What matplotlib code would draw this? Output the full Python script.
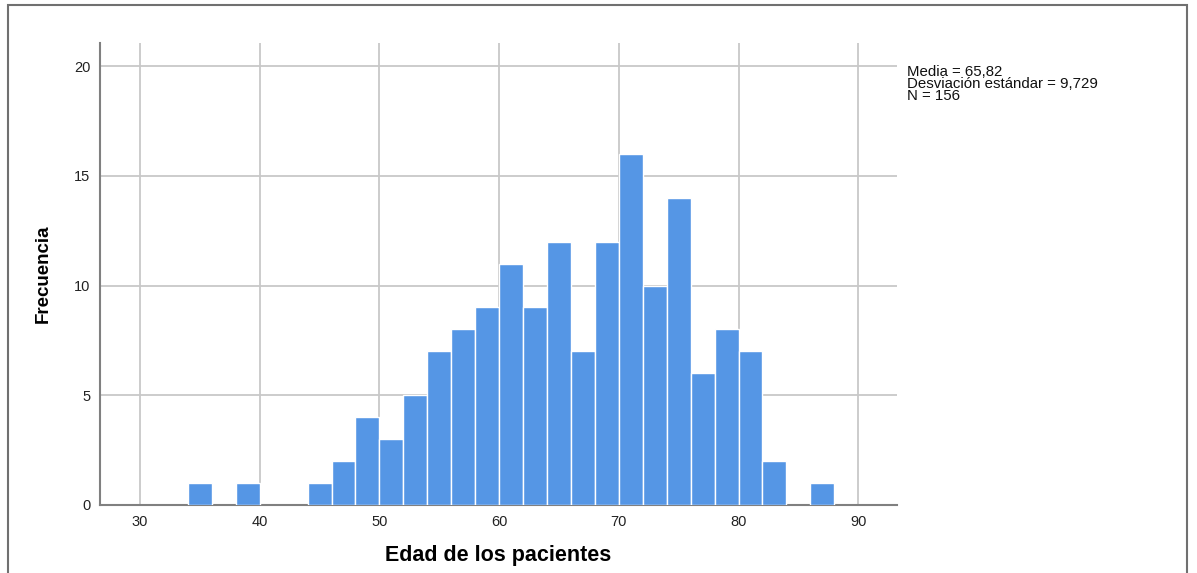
import matplotlib
matplotlib.use("Agg")
import matplotlib.pyplot as plt
from matplotlib.patches import Rectangle

plt.rcParams['font.family'] = ['Liberation Sans', 'DejaVu Sans']

bin_starts = [34, 38, 44, 46, 48, 50, 52, 54, 56, 58, 60, 62, 64, 66, 68, 70, 72, 74, 76, 78, 80, 82, 86]
counts = [1, 1, 1, 2, 4, 3, 5, 7, 8, 9, 11, 9, 12, 7, 12, 16, 10, 14, 6, 8, 7, 2, 1]
bin_width = 2
x_ticks = [30, 40, 50, 60, 70, 80, 90]
y_ticks = [0, 5, 10, 15, 20]
stats_lines = ["Media = 65,82", "Desviación estándar = 9,729", "N = 156"]

W, H = 1197, 573
fig = plt.figure(figsize=(W / 100, H / 100), dpi=100)
ax = fig.add_axes([100 / W, 68 / H, 797 / W, 462 / H])

ax.bar(bin_starts, counts, width=bin_width, align='edge', color='#5596E5',
       edgecolor='white', linewidth=1.0, zorder=3)

ax.set_xlim(26.66, 93.24)
ax.set_ylim(0, 21.05)
ax.set_xticks(x_ticks)
ax.set_yticks(y_ticks)
ax.grid(True, color='#c8c8c8', linewidth=1.3, zorder=0)
ax.set_axisbelow(True)
for s in ['top', 'right']:
    ax.spines[s].set_visible(False)
for s in ['left', 'bottom']:
    ax.spines[s].set_color('#808080')
    ax.spines[s].set_linewidth(1.5)
ax.tick_params(axis='x', length=0, labelsize=10.5, colors='#222222', pad=7)
ax.tick_params(axis='y', length=0, labelsize=10.5, colors='#222222', pad=7)

ax.set_xlabel("Edad de los pacientes", fontsize=15.5, fontweight='bold', labelpad=12)
ax.set_ylabel("Frecuencia", fontsize=13.5, fontweight='bold', labelpad=16)

fig.text(907 / W, 1 - 65 / H, "\n".join(stats_lines), fontsize=10.8, va='top', ha='left',
         linespacing=0.82, color='#111111')

fig.patches.append(Rectangle((8 / W, -0.05), 1179 / W, 1.05 - 5 / H, transform=fig.transFigure,
                             fill=False, edgecolor='#707070', linewidth=1.5))

fig.savefig("out.png", dpi=100)
